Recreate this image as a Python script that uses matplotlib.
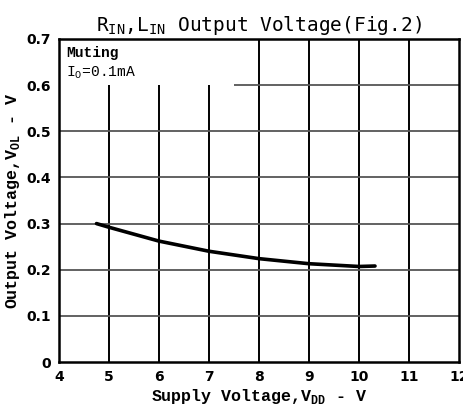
import matplotlib
matplotlib.use("Agg")
import matplotlib.pyplot as plt

# Data
vdd = [4.75, 5.0, 6.0, 7.0, 8.0, 9.0, 10.0, 10.32]
vol = [0.300, 0.292, 0.262, 0.240, 0.224, 0.213, 0.207, 0.208]

x_ticks = [4, 5, 6, 7, 8, 9, 10, 11, 12]
y_ticks = [0, 0.1, 0.2, 0.3, 0.4, 0.5, 0.6, 0.7]
y_tick_labels = ["0", "0.1", "0.2", "0.3", "0.4", "0.5", "0.6", "0.7"]

mono = ["Liberation Mono", "DejaVu Sans Mono"]

fig = plt.figure(figsize=(4.64, 4.09), dpi=100)
ax = fig.add_axes([59/464, 1 - 362/409, 400/464, 323/409])
ax.set_xlim(4, 12)
ax.set_ylim(0, 0.7)

# grid (partial, box region at upper-left left blank)
for xv in x_ticks[1:-1]:
    top = 0.6 if xv < 8 else 0.7
    ax.vlines(xv, 0, top, color="black", lw=1.4, zorder=1)
for yv in y_ticks[1:-1]:
    x0 = 7.5 if yv >= 0.6 else 4
    ax.hlines(yv, x0, 12, color="#555555", lw=1.3, zorder=1)

ax.plot(vdd, vol, color="black", lw=2.6, solid_capstyle="round", zorder=3)

for s in ax.spines.values():
    s.set_linewidth(1.8)

ax.set_xticks(x_ticks)
ax.set_yticks(y_ticks)
ax.set_yticklabels(y_tick_labels)
ax.tick_params(length=0, pad=6, labelsize=10)
for lab in ax.get_xticklabels() + ax.get_yticklabels():
    lab.set_fontweight("bold")

ax.set_xlabel(r"Supply Voltage,V$_{\mathregular{DD}}$ - V", family=mono,
              fontsize=12, fontweight="bold", labelpad=2)
ax.set_ylabel(r"Output Voltage,V$_{\mathregular{OL}}$ - V", family=mono,
              fontsize=12, fontweight="bold", labelpad=3)
ax.set_title(r"R$_{\mathregular{IN}}$,L$_{\mathregular{IN}}$ Output Voltage(Fig.2)",
             family=["DejaVu Sans Mono"], fontsize=14, pad=6)

ax.text(4.15, 0.685, "Muting", family=mono, fontsize=10.5, fontweight="bold",
        va="top", ha="left")
ax.text(4.15, 0.645, r"I$_{\mathregular{O}}$=0.1mA", family=mono, fontsize=10.5,
        va="top", ha="left")

fig.savefig("out.png", dpi=100)
